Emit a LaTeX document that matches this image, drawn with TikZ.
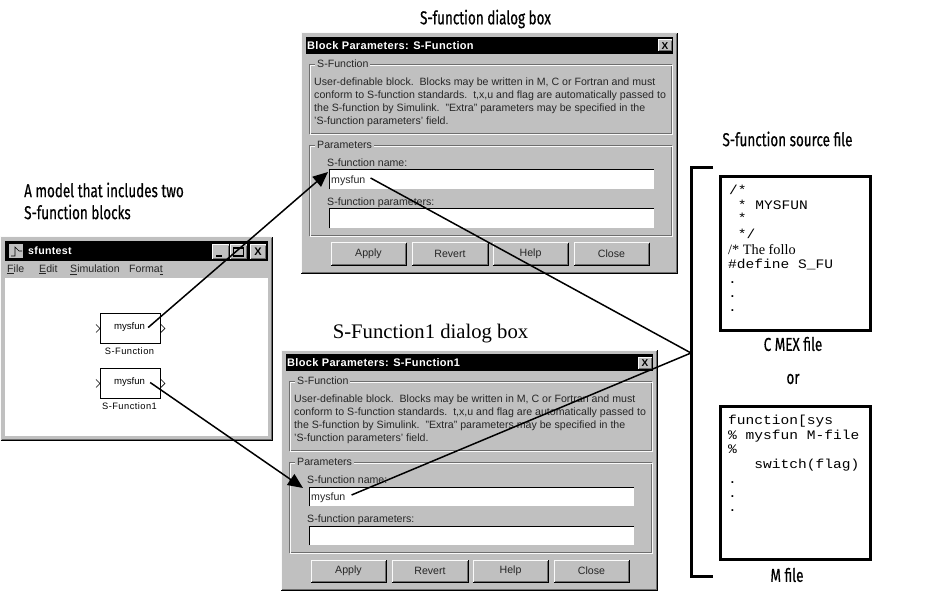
\documentclass[tikz,border=0pt]{standalone}
\usepackage{fontspec}
\usetikzlibrary{arrows.meta}
\setmainfont{Liberation Sans}
\newfontfamily\labelfont[FakeStretch=0.72,FakeBold=0.5]{Fira Sans}
\newfontfamily\codefont[FakeStretch=1.12]{Liberation Mono}
\newfontfamily\serifnew{Liberation Serif}
\definecolor{wingray}{RGB}{192,192,192}
\definecolor{lightedge}{RGB}{250,250,250}
\definecolor{darkedge}{RGB}{110,110,110}
\tikzset{
  heading/.style={font=\labelfont\fontsize{18.7}{22}\selectfont,inner sep=0pt,align=left},
  uitext/.style={font=\fontsize{10.6}{12}\selectfont,anchor=west,inner sep=0pt,text=black!85,text height=7.5pt,text depth=2pt},
  buttontext/.style={font=\fontsize{10.6}{12}\selectfont,inner sep=0pt,text=black!85},
  titletext/.style={font=\bfseries\addfontfeature{LetterSpace=3}\fontsize{11}{12}\selectfont,text=white,anchor=west,inner sep=0pt},
  codetext/.style={font=\codefont\fontsize{13}{14}\selectfont,anchor=west,inner sep=0pt},
  codeline/.style={codetext,text height=8pt,text depth=2pt},
  codeframe/.style={draw=black,line width=3pt,fill=white},
  blockbox/.style={draw=black,line width=0.9pt,fill=white,minimum width=60pt,minimum height=30pt,inner sep=0pt},
  blocktext/.style={font=\fontsize{9.6}{10}\selectfont,inner sep=0pt},
  blockname/.style={font=\addfontfeature{LetterSpace=5}\fontsize{9.3}{10}\selectfont,inner sep=0pt},
  pointer/.style={draw=black,line width=1.5pt},
  pointerhead/.style={pointer,-{Triangle[length=15pt,width=13pt]}},
}
\newcommand{\raisedbox}[4]{% x0,y0,x1,y1
  \fill[wingray] (#1,#2) rectangle (#3,#4);
  \draw[lightedge,line width=1pt] (#1,#4) -- (#1,#2) -- (#3,#2);
  \draw[black,line width=1pt] (#1,#4) -- (#3,#4) -- (#3,#2);
  \draw[darkedge,line width=1pt] (#1+1,#4-1) -- (#3-1,#4-1) -- (#3-1,#2+1);
}
\newcommand{\groupframe}[4]{% x0,y0,x1,y1
  \draw[darkedge,line width=0.8pt] (#1,#2) rectangle (#3,#4);
  \draw[lightedge,line width=0.8pt] (#1+1,#2+1) rectangle (#3+1,#4+1);
}
\newcommand{\dialogbox}[4]{% name, dx, dy, title
\begin{scope}[shift={(#2,#3)},name prefix=#1-]
  \raisedbox{0}{0}{376}{240}
  \node[fill=black,minimum width=367pt,minimum height=17pt,inner sep=0pt,anchor=north west] (titlebar) at (5,4) {};
  \node[titletext] (title) at (6,12.5) {#4};
  \raisedbox{357}{7}{371}{19}
  \node[font=\bfseries\fontsize{10}{10}\selectfont,inner sep=0pt] (closex) at (364,13) {X};
  \groupframe{8}{31}{370}{100}
  \node[uitext,fill=wingray,inner xsep=2pt,inner ysep=0pt] (g1) at (14,32) {S-Function};
  \node[uitext] (l1) at (13,50) {User-definable block.\ \ Blocks may be written in M, C or Fortran and must};
  \node[uitext] (l2) at (13,63) {conform to S-function standards.\ \ t,x,u and flag are automatically passed to};
  \node[uitext] (l3) at (13,76) {the S-function by Simulink.\ \ "Extra" parameters may be specified in the};
  \node[uitext] (l4) at (13,89) {'S-function parameters' field.};
  \groupframe{8}{112}{370}{202}
  \node[uitext,fill=wingray,inner xsep=2pt,inner ysep=0pt] (g2) at (14,113) {Parameters};
  \node[uitext] (nl) at (26,131) {S-function name:};
  \node[fill=white,minimum width=325pt,minimum height=19pt,inner sep=0pt,anchor=north west] (name) at (28,137) {};
  \draw[black,line width=1pt] (name.south west) -- (name.north west) -- (name.north east);
  \node[uitext] (nametext) at (30,148) {mysfun};
  \node[uitext] (pl) at (26,170) {S-function parameters:};
  \node[fill=white,minimum width=325pt,minimum height=19pt,inner sep=0pt,anchor=north west] (parm) at (28,176) {};
  \draw[black,line width=1pt] (parm.south west) -- (parm.north west) -- (parm.north east);
  \raisedbox{30}{210}{105}{232}
  \raisedbox{111}{210}{187}{232}
  \raisedbox{192}{210}{267}{232}
  \raisedbox{273}{210}{348}{232}
  \node[buttontext] (b1) at (67.5,221) {Apply};
  \node[buttontext] (b2) at (149,221) {Revert};
  \node[buttontext] (b3) at (229.5,221) {Help};
  \node[buttontext] (b4) at (310.5,221) {Close};
\end{scope}
}
\begin{document}
\begin{tikzpicture}[x=1pt,y=-1pt]
\useasboundingbox (0,0) rectangle (937,596);
\fill[white] (0,0) rectangle (937,596);

% headings
\node[heading,anchor=center] (hA) at (485.5,19) {S-function dialog box};
\node[heading,anchor=west] (hModel) at (24,190) {A model that includes two};
\node[heading,anchor=west] (hModel2) at (24,212) {S-function blocks};
\node[font=\serifnew\fontsize{20.7}{22}\selectfont,inner sep=0pt] (hB) at (430.5,334) {S-Function1 dialog box};
\node[heading] (hS) at (787.5,139) {S-function source file};

% model window
\raisedbox{0.5}{237}{272}{440}
\node[fill=black,minimum width=263pt,minimum height=20pt,inner sep=0pt,anchor=north west] (wtitle) at (5,241) {};
\fill[wingray] (9,244) rectangle (23,258);
\draw[black,line width=0.6pt] (11,256) -- (15,256) -- (15,247) -- (19,251) -- (22,251);
\node[titletext,font=\bfseries\addfontfeature{LetterSpace=3}\fontsize{10.6}{12}\selectfont] (wname) at (28,251) {sfuntest};
\raisedbox{212}{245}{229}{259}
\raisedbox{230}{245}{247}{259}
\raisedbox{250}{245}{266}{259}
\draw[black,line width=1.5pt] (216,256) -- (222,256);
\draw[black,line width=1.2pt] (233.5,248) rectangle (243.5,256);
\node[font=\bfseries\fontsize{11}{11}\selectfont,inner sep=0pt] (wx) at (258,252) {X};
\node[uitext] (m1) at (7,269.5) {\underline{F}ile};
\node[uitext] (m2) at (39,269.5) {\underline{E}dit};
\node[uitext] (m3) at (70,269.5) {\underline{S}imulation};
\node[uitext] (m4) at (129,269.5) {Forma\underline{t}};
\fill[white] (5,278) rectangle (268,436);

\node[blockbox,anchor=north west] (blockA) at (100,313) {};
\node[blockbox,anchor=north west] (blockB) at (100,368) {};
\node[blocktext] (tA) at (129.5,327.5) {mysfun};
\node[blocktext] (tB) at (129.5,382.5) {mysfun};
\node[blockname] (nA) at (129.5,351.5) {S-Function};
\node[blockname] (nB) at (129.5,406.5) {S-Function1};
\draw[black,line width=0.6pt] (blockA.west)++(-4,-4) -- (blockA.west) -- ++(-4,4);
\draw[black,line width=0.6pt] (blockB.west)++(-4,-4) -- (blockB.west) -- ++(-4,4);
\draw[black,line width=0.6pt] (blockA.east)++(0,-4) -- ++(4,4) -- ++(-4,4);
\draw[black,line width=0.6pt] (blockB.east)++(0,-4) -- ++(4,4) -- ++(-4,4);

% dialogs
\dialogbox{dlgA}{301}{33}{Block Parameters: S-Function}
\dialogbox{dlgB}{281}{350}{Block Parameters: S-Function1}

% source file bracket
\coordinate (brTop) at (713,168);
\coordinate (brBot) at (713,576);
\coordinate (brJoin) at (691,353);
\draw[black,line width=3pt] (brTop) -- (691,168) -- (691,576) -- (brBot);

\node[codeframe,minimum width=150pt,minimum height=154pt,inner sep=0pt,anchor=north west] (cbox) at (719,175) {};
\node[codeline] (c1) at (729,192) {/*};
\node[codeline] (c2) at (729,207) {\ * MYSFUN};
\node[codeline] (c3) at (729,220) {\ *};
\node[codeline] (c4) at (729,235) {\ */};
\node[font=\serifnew\fontsize{14.3}{14}\selectfont,anchor=west,inner sep=0pt] (c5) at (728,250) {/* The follo};
\node[codeline] (c6) at (728,265) {\#define S\_FU};
\node[codetext] (c7) at (728,283) {.};
\node[codetext] (c8) at (728,297) {.};
\node[codetext] (c9) at (728,311) {.};
\node[heading] (hC) at (793,344) {C MEX file};
\node[heading] (hOr) at (793,379) {or};

\node[codeframe,minimum width=150pt,minimum height=153pt,inner sep=0pt,anchor=north west] (mbox) at (719,405) {};
\node[codeline] (d1) at (728,421.5) {function[sys};
\node[codeline] (d2) at (728,436.5) {\% mysfun M-file};
\node[codeline] (d3) at (728,450) {\%};
\node[codeline] (d4) at (728,465.5) {\ \ \ switch(flag)};
\node[codetext] (d5) at (728,483) {.};
\node[codetext] (d6) at (728,497) {.};
\node[codetext] (d7) at (728,511) {.};
\node[heading] (hM) at (787,575) {M file};

% connectors
\draw[pointerhead] (tA.east) ++(3,0) -- ([shift={(-1,2)}]dlgA-name.north west);
\draw[pointerhead] (tB.east) ++(5,0) -- ([shift={(-6,1)}]dlgB-name.north west);
\draw[pointer] (dlgA-nametext.east) ++(5,-3) -- (brJoin);
\draw[pointer] (dlgB-nametext.east) ++(6,-3) -- (brJoin);
\end{tikzpicture}
\end{document}
